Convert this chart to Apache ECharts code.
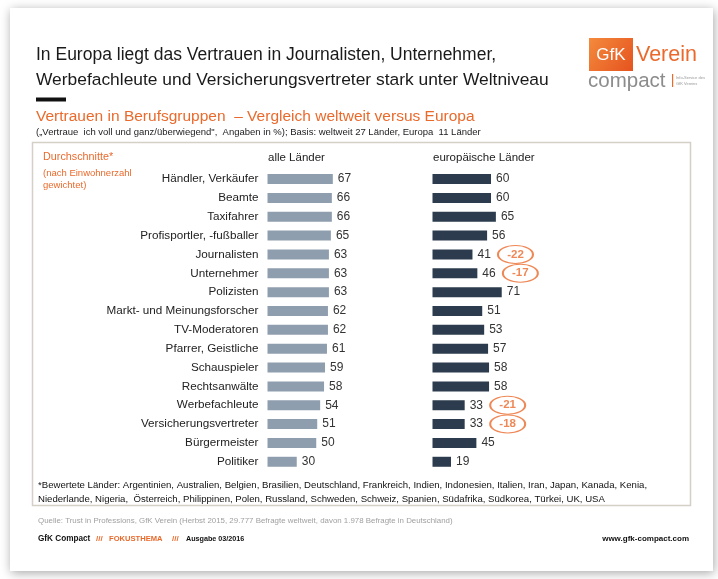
<!DOCTYPE html>
<html>
<head>
<meta charset="utf-8">
<script src="https://cdn.jsdelivr.net/npm/echarts@6/dist/echarts.min.js"></script>
<style>
    html, body { margin: 0; padding: 0; background: #fff; }
    #chart { width: 718px; height: 579px; }
</style>
</head>
<body>
<div id="chart"></div>
<script>
    // Berufsgruppen (von oben nach unten)
    var berufe = ['Händler, Verkäufer', 'Beamte', 'Taxifahrer', 'Profisportler, -fußballer',
        'Journalisten', 'Unternehmer', 'Polizisten', 'Markt- und Meinungsforscher',
        'TV-Moderatoren', 'Pfarrer, Geistliche', 'Schauspieler', 'Rechtsanwälte',
        'Werbefachleute', 'Versicherungsvertreter', 'Bürgermeister', 'Politiker']
    // alle Länder
    var weltweit = [67, 66, 66, 65, 63, 63, 63, 62, 62, 61, 59, 58, 54, 51, 50, 30]
    // europäische Länder
    var europa = [60, 60, 65, 56, 41, 46, 71, 51, 53, 57, 58, 58, 33, 33, 45, 19]

    var orange = '#ea6a2c'
    var font = 'Liberation Sans, Arial, sans-serif'

    // Abweichungen Europa vs. weltweit, markiert ab -15 Punkten
    var abweichung = []
    for (var i = 0; i < berufe.length; i++) {
        var d = europa[i] - weltweit[i]
        if (d <= -15) {
            abweichung.push({ value: [europa[i], berufe[i]], diff: d })
        }
    }

    function txt(x, y, text, size, color, extra) {
        var s = {
            x: x, y: y, text: text,
            font: (extra && extra.bold ? 'bold ' : '') + size + 'px ' + font,
            fill: color, textVerticalAlign: 'middle',
            textAlign: (extra && extra.align) || 'left'
        }
        return { type: 'text', silent: true, style: s, z: 10 }
    }

    var myChart = echarts.init(document.getElementById('chart'))

    var gridTop = 169.6, gridHeight = 301.6

    myChart.setOption({
        animation: false,
        graphic: [
            // Karte mit Schatten
            { type: 'rect', shape: { x: 10, y: 8, width: 703, height: 563 },
                style: { fill: '#fff', shadowBlur: 10, shadowColor: 'rgba(0,0,0,0.35)', shadowOffsetX: 1, shadowOffsetY: 2 }, z: 0 },
            // Rahmen
            { type: 'rect', shape: { x: 32.5, y: 142.5, width: 658, height: 363 },
                style: { fill: 'none', stroke: '#d4d0c8', lineWidth: 1.5 }, z: 1 },
            txt(36, 55, 'In Europa liegt das Vertrauen in Journalisten, Unternehmer,', 17.5, '#1a1a1a'),
            txt(36, 80, 'Werbefachleute und Versicherungsvertreter stark unter Weltniveau', 17.4, '#1a1a1a'),
            { type: 'rect', shape: { x: 36, y: 97.5, width: 30, height: 4 }, style: { fill: '#111' }, z: 10 },
            txt(36, 117, 'Vertrauen in Berufsgruppen  – Vergleich weltweit versus Europa', 15.5, orange),
            txt(36, 132, '(„Vertraue  ich voll und ganz/überwiegend",  Angaben in %); Basis: weltweit 27 Länder, Europa  11 Länder', 9.5, '#222'),
            txt(43, 157, 'Durchschnitte*', 10.8, orange),
            txt(43, 173, '(nach Einwohnerzahl', 9.5, orange),
            txt(43, 185, 'gewichtet)', 9.5, orange),
            txt(268, 158, 'alle Länder', 11.5, '#222'),
            txt(433, 158, 'europäische Länder', 11.5, '#222'),
            txt(38, 485, '*Bewertete Länder: Argentinien, Australien, Belgien, Brasilien, Deutschland, Frankreich, Indien, Indonesien, Italien, Iran, Japan, Kanada, Kenia,', 9.6, '#111'),
            txt(38, 499, 'Niederlande, Nigeria,  Österreich, Philippinen, Polen, Russland, Schweden, Schweiz, Spanien, Südafrika, Südkorea, Türkei, UK, USA', 9.6, '#111'),
            txt(38, 521, 'Quelle: Trust in Professions, GfK Verein (Herbst 2015, 29.777 Befragte weltweit, davon 1.978 Befragte in Deutschland)', 7.9, '#a0a0a0'),
            txt(38, 539, 'GfK Compact', 8.2, '#111', { bold: true }),
            txt(96, 539, '///', 8, orange, { bold: true }),
            txt(109, 539, 'FOKUSTHEMA', 7.6, orange, { bold: true }),
            txt(172, 539, '///', 8, orange, { bold: true }),
            txt(186, 539, 'Ausgabe 03/2016', 7.2, '#111', { bold: true }),
            txt(689, 539, 'www.gfk-compact.com', 8, '#111', { bold: true, align: 'right' }),
            // Logo
            { type: 'rect', shape: { x: 589, y: 38, width: 44, height: 33 },
                style: { fill: new echarts.graphic.LinearGradient(0, 0, 1, 1, [
                    { offset: 0, color: '#f48a3c' }, { offset: 1, color: '#e5531f' }]) }, z: 10 },
            txt(611, 55, 'GfK', 17, '#fff', { align: 'center' }),
            txt(636, 55, 'Verein', 21.5, orange),
            txt(588, 81, 'compact', 20.5, '#8c8c8c'),
            { type: 'rect', shape: { x: 672, y: 74, width: 1.2, height: 13 }, style: { fill: orange }, z: 10 },
            txt(676, 78, 'Info-Service des', 4, '#999'),
            txt(676, 84, 'GfK Vereins', 4, '#999')
        ],
        grid: [
            { left: 267.5, top: gridTop, width: 97.5, height: gridHeight },
            { left: 432.5, top: gridTop, width: 97.5, height: gridHeight }
        ],
        xAxis: [
            { type: 'value', gridIndex: 0, min: 0, max: 100, show: false },
            { type: 'value', gridIndex: 1, min: 0, max: 100, show: false }
        ],
        yAxis: [
            {
                type: 'category', gridIndex: 0, data: berufe, inverse: true,
                axisLine: { show: false }, axisTick: { show: false },
                axisLabel: { margin: 9, fontSize: 11.7, color: '#222', fontFamily: font }
            },
            {
                type: 'category', gridIndex: 1, data: berufe, inverse: true,
                axisLine: { show: false }, axisTick: { show: false }, axisLabel: { show: false }
            }
        ],
        series: [
            {
                name: 'alle Länder', type: 'bar', xAxisIndex: 0, yAxisIndex: 0,
                data: weltweit, barWidth: 10,
                itemStyle: { color: '#8f9eae' },
                label: { show: true, position: 'right', distance: 5, fontSize: 12, color: '#333', fontFamily: font }
            },
            {
                name: 'europäische Länder', type: 'bar', xAxisIndex: 1, yAxisIndex: 1,
                data: europa, barWidth: 10,
                itemStyle: { color: '#2c3b4d' },
                label: { show: true, position: 'right', distance: 5, fontSize: 12, color: '#333', fontFamily: font }
            },
            {
                name: 'Abweichung', type: 'scatter', xAxisIndex: 1, yAxisIndex: 1,
                data: abweichung,
                symbol: 'path://M0,10 A10,10 0 1,1 20,10 A10,10 0 1,1 0,10 Z',
                symbolSize: [35, 18],
                symbolOffset: [43, 0],
                itemStyle: { color: 'rgba(255,255,255,0)', borderColor: orange, borderWidth: 1.5 },
                label: {
                    show: true, position: 'inside', color: orange, fontWeight: 'bold',
                    fontSize: 11.5, fontFamily: font,
                    formatter: function (p) { return String(p.data.diff) }
                },
                z: 5
            }
        ]
    })
</script>
</body>
</html>
